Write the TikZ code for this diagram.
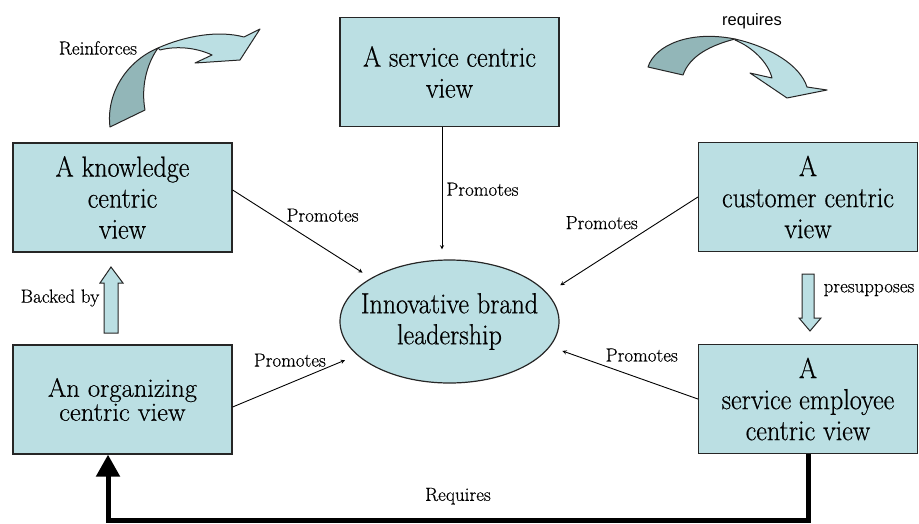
\documentclass[tikz,border=0pt]{standalone}
\usepackage{fontspec}
\newfontfamily\boxfont{Latin Modern Roman}[FakeStretch=0.9, FakeBold=0.5]
\newfontfamily\tagfont{Latin Modern Roman}[FakeBold=0.4]
\newfontfamily\labelsans{Liberation Sans}
\usetikzlibrary{shapes.geometric, arrows, arrows.meta}
\definecolor{boxblue}{RGB}{187,223,227}
\definecolor{arrowdark}{RGB}{146,182,184}

\begin{document}
\begin{tikzpicture}[x=1pt, y=-1pt, node distance=202pt, >=stealth]
\tikzset{
  block/.style = {rectangle, draw=black!85, line width=1.2pt, fill=boxblue, minimum width=219pt, minimum height=109pt, align=center, font=\boxfont\fontsize{29}{31}\selectfont},
  hub/.style = {ellipse, draw=black!85, line width=1.2pt, fill=boxblue, minimum width=219pt, minimum height=123pt, inner xsep=-30pt, inner ysep=-20pt, align=center, font=\boxfont\fontsize{29}{31}\selectfont},
  tag/.style = {font=\tagfont\fontsize{19}{20}\selectfont, inner sep=1pt},
  line/.style = {draw, line width=0.9pt, -stealth},
  curl/.style = {draw=black!85, line width=1pt, line join=round},
  hollow/.style = {draw=black!85, line width=1pt, fill=boxblue}
}
\useasboundingbox (0,0) rectangle (919,523);
\node [block] (service) at (449.5,72) {A service centric\\view};
\node [block] (knowledge) at (122.5,197.5) {A knowledge\\centric\\view};
\node [block] (customer) at (808,197) {A\\customer centric\\view};
\node [block, below of=knowledge, font=\tagfont\fontsize{26.5}{24}\selectfont] (organizing) {An organizing\\centric view};
\node [block, below of=customer] (employee) {A\\service employee\\centric view};
\node [hub] (innov) at (449.5,321.5) {Innovative brand\\leadership};
\path [line, shorten >=10pt] ([xshift=-7.5pt]service.south) -- node [tag, pos=.47, right=3pt] {Promotes} ([xshift=-7.5pt]service.south |- innov.north);
\path [line, shorten >=10pt] ([yshift=7.5pt]knowledge.east) -- node [tag, pos=.65, above=24pt] {Promotes} (innov.151);
\path [line, shorten >=15pt] (customer.west) -- node [tag, pos=.64, above=28pt] {Promotes} (innov.16);
\path [line, shorten >=13pt] (employee.west) -- node [tag, pos=.38, above=16pt] {Promotes} (innov.-14);
\path [line, shorten >=13pt] ([yshift=-7.5pt]organizing.east) -- node [tag, pos=.46, above=15pt] {Promotes} (innov.200);
\coordinate (corner) at (108,520);
\draw [line width=5pt, -{Triangle[width=23pt,length=22pt]}] (employee.south) |- node [tag, pos=.75, above=12pt] {Requires} (corner) -- ([xshift=-14.5pt]organizing.south);
\draw [hollow] (104,333) -- (104,283) -- (100,283) -- (111,267) -- (123,283) -- (118,283) -- (118,333) -- cycle;
\node [tag] (backed) at (60,298) {Backed by};
\draw [hollow] (802,274) -- (814,274) -- (814,318) -- (821,318) -- (810,331) -- (799,318) -- (802,318) -- cycle;
\node [tag] (presup) at (869,290) {presupposes};
\draw [curl, fill=arrowdark] (110,127) .. controls (106,95) and (125,62) .. (158,48) .. controls (146,65) and (141,88) .. (145,110) -- cycle;
\draw [curl, fill=boxblue] (158,48) .. controls (185,36) and (218,30) .. (244,37) -- (260,29) -- (240,60) -- (195,63) -- (212,55) .. controls (195,47) and (175,46) .. (160,50) -- cycle;
\node [tag] (reinf) at (98,48) {Reinforces};
\draw [curl, fill=arrowdark] (648,67) .. controls (655,45) and (690,30) .. (735,39) .. controls (712,45) and (690,55) .. (683,75) -- cycle;
\draw [curl, fill=boxblue] (735,39) .. controls (770,47) and (800,65) .. (807,87) -- (827,90) -- (787,98) -- (750,73) -- (772,78) .. controls (768,62) and (752,47) .. (735,40) -- cycle;
\node [font=\labelsans\fontsize{16.5}{18}\selectfont] (req) at (752,21) {requires};
\end{tikzpicture}
\end{document}
